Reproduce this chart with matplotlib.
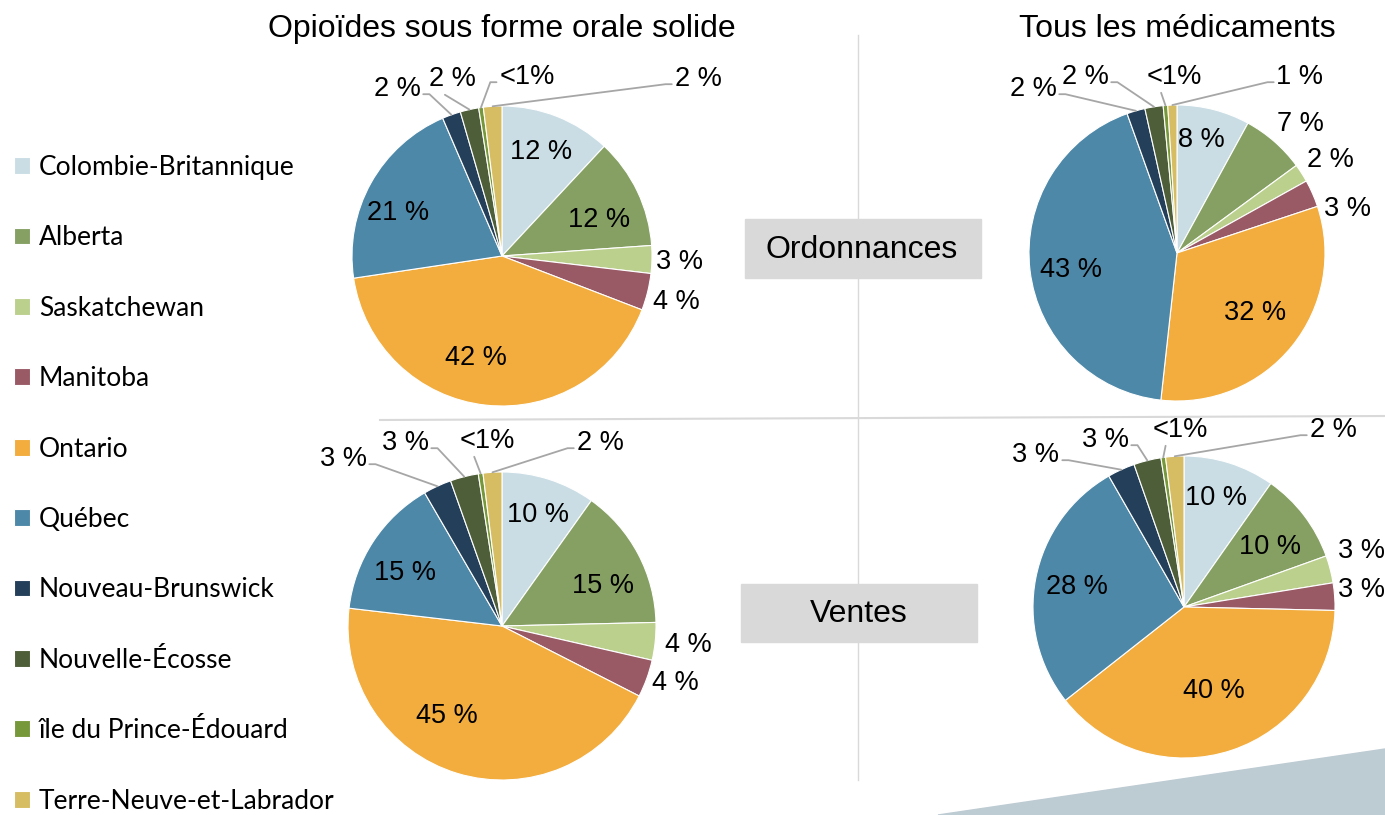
import numpy as np
import matplotlib.pyplot as plt
from matplotlib.patches import Polygon, Rectangle

W, H = 1385, 815

provinces = ['Colombie-Britannique', 'Alberta', 'Saskatchewan', 'Manitoba', 'Ontario',
             'Québec', 'Nouveau-Brunswick', 'Nouvelle-Écosse', 'île du Prince-Édouard',
             'Terre-Neuve-et-Labrador']
colors = ['#cadde5', '#86a064', '#bcd08e', '#995a66', '#f2ad3e',
          '#4e88a8', '#233f5a', '#4d5e39', '#77983a', '#d6bc62']

# parts en % (0.5 = "<1%")
opioides_ordonnances = [12, 12, 3, 4, 42, 21, 2, 2, 0.5, 2]
tous_ordonnances = [8, 7, 2, 3, 32, 43, 2, 2, 0.5, 1]
opioides_ventes = [10, 15, 4, 4, 45, 15, 3, 3, 0.5, 2]
tous_ventes = [10, 10, 3, 3, 40, 28, 3, 3, 0.5, 2]

# layout: pie centre / radius (pixels, y from top) and label placement
pies = [
    (opioides_ordonnances, (502, 256), 150,
     [(541, 152, 'in'), (599, 220, 'in'), (680, 262, 'out'), (676, 302, 'out'),
      (476, 358, 'in'), (398, 213, 'in'), (397, 89, 'L'), (452, 79, 'B'),
      (527, 77, 'R'), (698, 79, 'R')]),
    (tous_ordonnances, (1177, 253), 148,
     [(1201, 140, 'in'), (1300, 124, 'out'), (1330, 160, 'out'), (1347, 209, 'out'),
      (1255, 313, 'in'), (1071, 270, 'in'), (1033, 89, 'L'), (1085, 77, 'L'),
      (1174, 77, 'B'), (1300, 77, 'R')]),
    (opioides_ventes, (502, 626), 154,
     [(538, 515, 'in'), (603, 586, 'in'), (688, 645, 'out'), (675, 683, 'out'),
      (447, 716, 'in'), (405, 573, 'in'), (343, 459, 'L'), (405, 443, 'L'),
      (487, 441, 'B'), (600, 443, 'R')]),
    (tous_ventes, (1184, 607), 151,
     [(1216, 498, 'in'), (1270, 547, 'in'), (1361, 551, 'out'), (1361, 590, 'out'),
      (1214, 691, 'in'), (1077, 587, 'in'), (1036, 455, 'L'), (1105, 440, 'L'),
      (1180, 430, 'B'), (1333, 430, 'R')]),
]

fig = plt.figure(figsize=(13.85, 8.15), dpi=100)
ax = fig.add_axes([0, 0, 1, 1])

lab_font = dict(family='Liberation Sans', size=19.5, color='black')
line_col = '#a6a6a6'

handles = None
for vals, (cx, cy), r, labs in pies:
    wedges, _ = ax.pie(vals, colors=colors, startangle=90, counterclock=False,
                       center=(cx, H - cy), radius=r,
                       wedgeprops=dict(edgecolor='white', linewidth=0.8))
    if handles is None:
        handles = wedges
    for v, w, (lx, ly, kind) in zip(vals, wedges, labs):
        txt = '<1%' if v < 1 else f'{v:g} %'
        if kind in ('in', 'out'):
            ax.text(lx, H - ly, txt, ha='center', va='center', **lab_font)
            continue
        a = np.deg2rad((w.theta1 + w.theta2) / 2)
        anchor = (cx + r * np.cos(a), H - cy + r * np.sin(a))
        if kind == 'L':
            ap = dict(relpos=(1, 0.3), connectionstyle='arc,angleA=0,armA=9,angleB=0,armB=0,rad=0')
        elif kind == 'R':
            ap = dict(relpos=(0, 0.3), connectionstyle='arc,angleA=180,armA=9,angleB=0,armB=0,rad=0')
        else:
            ap = dict(relpos=(0.25, 0), connectionstyle='arc3,rad=0')
        ax.annotate(txt, xy=anchor, xytext=(lx, H - ly), ha='center', va='center',
                    arrowprops=dict(arrowstyle='-', color=line_col, lw=1.3,
                                    shrinkA=0, shrinkB=0, **ap),
                    **lab_font)

# titles
ax.text(502, H - 29, 'Opioïdes sous forme orale solide', ha='center', va='center',
        family='Liberation Sans', size=23)
ax.text(1177, H - 29, 'Tous les médicaments', ha='center', va='center',
        family='Liberation Sans', size=23)

# row boxes
ax.add_patch(Rectangle((745, H - 278), 236, 59, color='#d9d9d9', zorder=1))
ax.text(862, H - 250, 'Ordonnances', ha='center', va='center', family='Liberation Sans', size=23)
ax.add_patch(Rectangle((741, H - 642), 236, 58, color='#d9d9d9', zorder=1))
ax.text(859, H - 614, 'Ventes', ha='center', va='center', family='Liberation Sans', size=23)

# separators
ax.plot([858, 858], [H - 35, H - 780], color='#d9d9d9', lw=1, zorder=0)
ax.plot([380, 1385], [H - 420, H - 416], color='#d9d9d9', lw=1.5, zorder=0)

# corner shape
ax.add_patch(Polygon([(938, 0), (1385, H - 749), (1385, 0)], closed=True,
                     color='#bdcbd2', zorder=0))

ax.legend(handles, provinces, loc='upper left', bbox_to_anchor=(14 / W, (H - 155) / H),
          frameon=False, prop=dict(family='Lato', size=19), labelspacing=1.72,
          handlelength=0.6, handleheight=0.6, handletextpad=0.35,
          borderpad=0, borderaxespad=0)

ax.set_xlim(0, W)
ax.set_ylim(0, H)
ax.set_axis_off()

fig.savefig('out.png', dpi=100)
